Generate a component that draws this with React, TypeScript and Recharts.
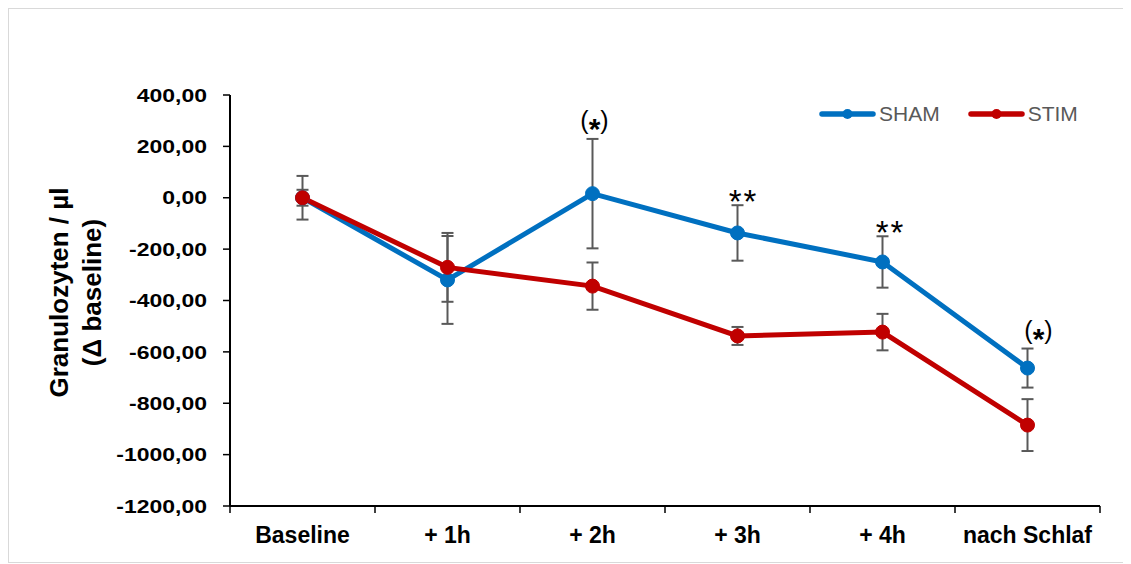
import React from 'react';
import { LineChart, Line, XAxis, YAxis, ErrorBar, LabelList, Legend } from 'recharts';

// Granulozyten, Veränderung gegenüber Baseline (Mittelwert ± SEM)
const categories = ['Baseline', '+ 1h', '+ 2h', '+ 3h', '+ 4h', 'nach Schlaf'];
const shamMean = [0, -320, 16, -137, -250, -663];
const shamSem = [85, 171, 213, 108, 100, 76];
const stimMean = [0, -271, -344, -538, -523, -885];
const stimSem = [31, 134, 92, 35, 71, 101];
const significance = ['', '', '(*)', '**', '**', '(*)'];
const yTicks = [-1200, -1000, -800, -600, -400, -200, 0, 200, 400];

// small horizontal nudges for the significance marks
const markNudge = [0, 0, 2, 6, 8, 11];

const SHAM_COLOR = '#0070C0';
const STIM_COLOR = '#C00000';
const BAR_COLOR = '#595959';
const FONT = '"Liberation Sans", Arial, Helvetica, sans-serif';

const data = categories.map((name, i) => ({
  name,
  pos: i + 0.5,
  sham: shamMean[i],
  shamErr: shamSem[i],
  stim: stimMean[i],
  stimErr: stimSem[i],
  shamTop: shamMean[i] + shamSem[i],
}));

// category boundaries at integers, labels in the middle of each band
const xTicks = Array.from({ length: categories.length * 2 + 1 }, (_, i) => i / 2);

function formatDe(v: number): string {
  return v.toFixed(2).replace('.', ',');
}

function YTick({ x, y, payload }: any) {
  return (
    <g transform={`translate(${x},${y}) scale(1,0.8)`}>
      <text x={0} y={0} dy="0.36em" textAnchor="end" fontSize={23} fontWeight="bold" fill="#000" fontFamily={FONT}>
        {formatDe(payload.value)}
      </text>
    </g>
  );
}

function XTick({ x, y, payload }: any) {
  const v = payload.value as number;
  if (Number.isInteger(v)) {
    return <line x1={x} y1={y} x2={x} y2={y + 7} stroke="#000" strokeWidth={1.5} />;
  }
  return (
    <text x={x} y={y + 37} textAnchor="middle" fontSize={23} fontWeight="bold" fill="#000" fontFamily={FONT}>
      {categories[Math.floor(v)]}
    </text>
  );
}

function YTitle({ viewBox }: any) {
  const cy = viewBox.y + viewBox.height / 2 - 8;
  return (
    <g fontFamily={FONT} fontWeight="bold" fontSize={26} fill="#000">
      <text x={50} y={cy} dy="0.35em" textAnchor="middle" transform={`rotate(-90 50 ${cy})`}>
        Granulozyten / µl
      </text>
      <text x={83} y={cy} dy="0.35em" textAnchor="middle" transform={`rotate(-90 83 ${cy})`}>
        (Δ baseline)
      </text>
    </g>
  );
}

function SignificanceMark({ x, y, index }: any) {
  const mark = significance[index];
  if (!mark) return null;
  const cx = x + markNudge[index];
  if (mark === '**') {
    return (
      <text x={cx} y={y + 8} textAnchor="middle" fontSize={33} letterSpacing={2} fill="#000" fontFamily={FONT}>
        **
      </text>
    );
  }
  return (
    <text x={cx} y={y - 10} textAnchor="middle" fontSize={25} fill="#000" fontFamily={FONT}>
      <tspan>(</tspan>
      <tspan fontSize={30} fontWeight="bold" dy={10}>*</tspan>
      <tspan dy={-10}>)</tspan>
    </text>
  );
}

const legendItems = [
  { label: 'SHAM', color: SHAM_COLOR },
  { label: 'STIM', color: STIM_COLOR },
];

function LegendContent() {
  return (
    <div style={{ display: 'flex', alignItems: 'center', gap: 28, fontFamily: FONT }}>
      {legendItems.map((item) => (
        <div key={item.label} style={{ display: 'flex', alignItems: 'center', gap: 3 }}>
          <svg width={57} height={14}>
            <line x1={3} y1={7} x2={54} y2={7} stroke={item.color} strokeWidth={5.5} strokeLinecap="round" />
            <circle cx={28.5} cy={7} r={5} fill={item.color} />
          </svg>
          <span style={{ fontSize: 21, color: '#595959', lineHeight: '24px' }}>{item.label}</span>
        </div>
      ))}
    </div>
  );
}

export default function App() {
  return (
    <div
      style={{
        position: 'relative',
        width: 1121,
        height: 555,
        border: '1px solid #d9d9d9',
        boxSizing: 'border-box',
        background: '#fff',
      }}
    >
      <LineChart width={1119} height={553} data={data} margin={{ top: 86, right: 28, bottom: 0, left: 0 }}>
        <XAxis
          dataKey="pos"
          type="number"
          domain={[0, categories.length]}
          ticks={xTicks}
          interval={0}
          height={56}
          tickSize={0}
          tickMargin={0}
          tickLine={false}
          axisLine={{ stroke: '#000', strokeWidth: 2 }}
          tick={<XTick />}
        />
        <YAxis
          type="number"
          domain={[-1200, 400]}
          ticks={yTicks}
          interval={0}
          width={221}
          tickSize={7}
          tickMargin={16}
          axisLine={{ stroke: '#000', strokeWidth: 2 }}
          tickLine={{ stroke: '#000', strokeWidth: 1.5 }}
          tick={<YTick />}
          label={<YTitle />}
        />
        <Legend
          layout="horizontal"
          verticalAlign="middle"
          align="center"
          content={<LegendContent />}
          wrapperStyle={{ position: 'absolute', top: 93, left: 810, width: 280, height: 24 }}
        />
        <Line
          dataKey="sham"
          stroke={SHAM_COLOR}
          strokeWidth={5}
          dot={{ r: 7, fill: SHAM_COLOR, stroke: SHAM_COLOR, strokeWidth: 1 }}
          activeDot={false}
          isAnimationActive={false}
        >
          <ErrorBar dataKey="shamErr" direction="y" width={6} strokeWidth={2} stroke={BAR_COLOR} />
        </Line>
        <Line
          dataKey="stim"
          stroke={STIM_COLOR}
          strokeWidth={5}
          dot={{ r: 7, fill: STIM_COLOR, stroke: STIM_COLOR, strokeWidth: 1 }}
          activeDot={false}
          isAnimationActive={false}
        >
          <ErrorBar dataKey="stimErr" direction="y" width={6} strokeWidth={2} stroke={BAR_COLOR} />
        </Line>
        <Line
          dataKey="shamTop"
          stroke="none"
          strokeWidth={0}
          dot={false}
          activeDot={false}
          legendType="none"
          isAnimationActive={false}
        >
          <LabelList dataKey="shamTop" content={<SignificanceMark />} />
        </Line>
      </LineChart>
    </div>
  );
}
